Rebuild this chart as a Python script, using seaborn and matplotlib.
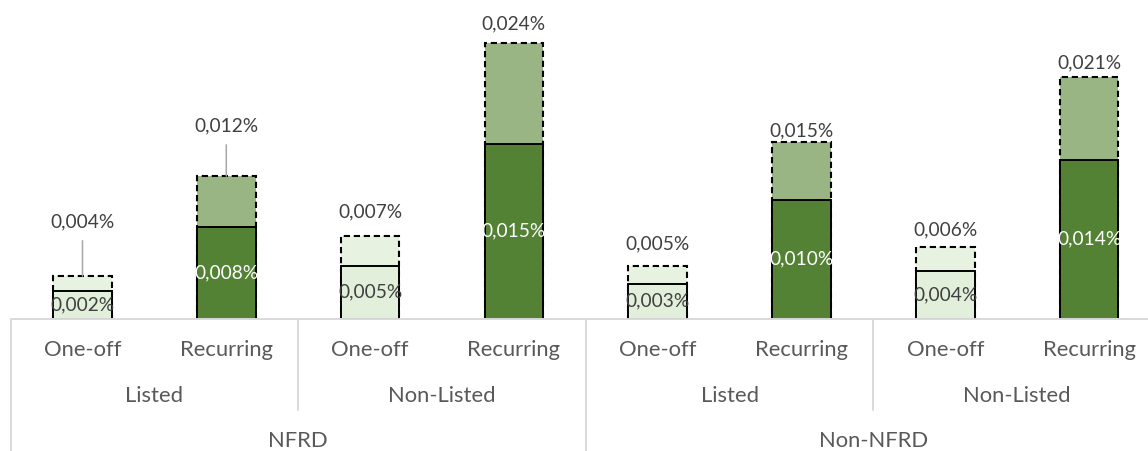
import matplotlib
matplotlib.use("Agg")
import matplotlib.pyplot as plt
from matplotlib.lines import Line2D
from matplotlib.transforms import blended_transform_factory
import seaborn as sns
import pandas as pd

# ---- data (values in %) ----
groups = ["NFRD", "Non-NFRD"]
listing = ["Listed", "Non-Listed"]
kinds = ["One-off", "Recurring"]
totals = [0.0037, 0.0124, 0.0072, 0.0240, 0.0046, 0.0154, 0.0062, 0.0210]
parts = [0.0024, 0.0080, 0.0046, 0.0152, 0.0030, 0.0103, 0.0041, 0.0138]

keys = [f"{g}|{l}|{k}" for g in groups for l in listing for k in kinds]
kind_of = [k for g in groups for l in listing for k in kinds]
df = pd.DataFrame({"key": keys, "kind": kind_of, "total": totals, "part": parts})

total_col = {"One-off": "#E8F2E1", "Recurring": "#99B584"}
part_col = {"One-off": "#E2EFDA", "Recurring": "#548235"}
label_col = {"One-off": "#404040", "Recurring": "#FFFFFF"}

def fmt(v):
    return f"{v:.3f}".replace(".", ",") + "%"

sns.set_style("white")
plt.rcParams["font.family"] = ["Lato", "DejaVu Sans"]

W, H = 1148, 451
fig = plt.figure(figsize=(W / 100, H / 100), dpi=100)
base_px = 318.5
left_px, right_px = 10.6, 1161.0
ax = fig.add_axes([left_px / W, (H - base_px) / H, (right_px - left_px) / W, base_px / H])

bw = 0.407
# totals behind, drawn with a dashed outline
sns.barplot(data=df, x="key", y="total", hue="key", order=keys, hue_order=keys,
            palette=[total_col[k] for k in kind_of], legend=False, width=bw,
            saturation=1, edgecolor="black", linewidth=1.5, ax=ax)
for p in ax.patches:
    p.set_linestyle((0, (3.0, 1.8)))
# realised part in front, solid outline
sns.barplot(data=df, x="key", y="part", hue="key", order=keys, hue_order=keys,
            palette=[part_col[k] for k in kind_of], legend=False, width=bw,
            saturation=1, edgecolor="black", linewidth=1.4, ax=ax)

ax.set_xlim(-0.5, len(keys) - 0.5)
ax.set_ylim(0, 0.0240 * base_px / 275.6)
ax.set_axis_off()

fs_val = 13.8
fs_cat = 15.8
# distance (px) from bar top to the centre of each total label
label_gap_px = [54, 50, 24, 19, 22, 11, 17, 14]
leader = [True, True, False, False, False, False, False, False]

for i, row in df.iterrows():
    ax.text(i, row["part"] / 2, fmt(row["part"]), ha="center", va="center",
            fontsize=fs_val, color=label_col[row["kind"]], zorder=5)
    off = label_gap_px[i] * 0.72
    kw = dict(textcoords="offset points", ha="center", va="center",
              fontsize=fs_val, color="#404040")
    if leader[i]:
        kw["arrowprops"] = dict(arrowstyle="-", color="#A6A6A6", lw=1.1,
                                shrinkA=5, shrinkB=0)
    ax.annotate(fmt(row["total"]), xy=(i, row["total"]), xytext=(0, off), **kw)

# multi-level category axis
tr = blended_transform_factory(ax.transData, fig.transFigure)
def fy(px):
    return (H - px) / H

grid = "#D9D9D9"
fig.add_artist(Line2D([left_px / W, 1.0], [fy(319), fy(319)], color=grid, lw=1.4,
                      transform=fig.transFigure))
for x, bottom in [(-0.5, H), (1.5, 410), (3.5, H), (5.5, 410)]:
    fig.add_artist(Line2D([x, x], [fy(319), fy(bottom)], color=grid, lw=1.4,
                          transform=tr, clip_on=False))

cat_col = "#595959"
for i, k in enumerate(kind_of):
    fig.text(i, fy(350.5), k, transform=tr, ha="center", va="center",
             fontsize=fs_cat, color=cat_col)
for j in range(4):
    fig.text(2 * j + 0.5, fy(396), listing[j % 2], transform=tr, ha="center",
             va="center", fontsize=fs_cat, color=cat_col)
for j in range(2):
    fig.text(4 * j + 1.5, fy(441), groups[j], transform=tr, ha="center",
             va="center", fontsize=fs_cat, color=cat_col)

fig.savefig("out.png", dpi=100)
